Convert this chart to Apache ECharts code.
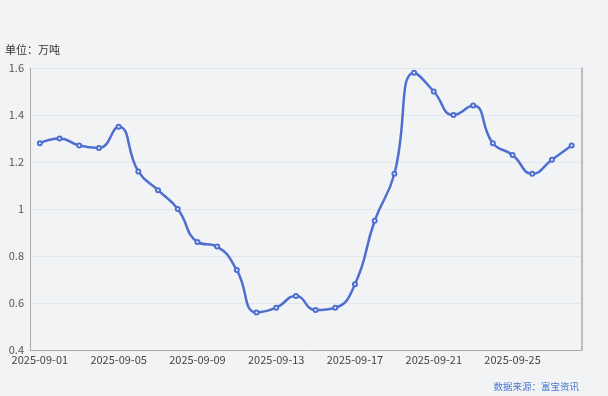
<!DOCTYPE html>
<html>
<head>
<meta charset="utf-8">
<script src="https://cdn.jsdelivr.net/npm/echarts@6/dist/echarts.min.js"></script>
<style>
html,body{margin:0;padding:0;background:#f2f3f5;}
#c{width:608px;height:396px;}
</style>
</head>
<body>
<div id="c"></div>
<script>
const categories = ['2025-09-01','2025-09-02','2025-09-03','2025-09-04','2025-09-05','2025-09-06','2025-09-07','2025-09-08','2025-09-09','2025-09-10','2025-09-11','2025-09-12','2025-09-13','2025-09-14','2025-09-15','2025-09-16','2025-09-17','2025-09-18','2025-09-19','2025-09-20','2025-09-21','2025-09-22','2025-09-23','2025-09-24','2025-09-25','2025-09-26','2025-09-27','2025-09-28'];
const values = [1.28,1.30,1.27,1.26,1.35,1.16,1.08,1.00,0.86,0.84,0.74,0.56,0.58,0.63,0.57,0.58,0.68,0.95,1.15,1.58,1.50,1.40,1.44,1.28,1.23,1.15,1.21,1.27];
const unitText = '单位：万吨';
const sourceText = '数据来源：富宝资讯';

const chart = echarts.init(document.getElementById('c'));
const font = '"Microsoft YaHei","Noto Sans CJK SC",sans-serif';
chart.setOption({
  backgroundColor: '#f2f3f5',
  animation: false,
  textStyle: {fontFamily: font},
  graphic: [
    {type:'text', left: 5, top: 44, style:{text: unitText, fill:'#333', font:'11px ' + font}},
    {type:'text', right: 29, top: 382, style:{text: sourceText, fill:'#4a78cf', font:'9.5px ' + font}}
  ],
  grid: {left: 30, right: 26.5, top: 68, bottom: 46},
  xAxis: {
    type: 'category',
    data: categories,
    boundaryGap: true,
    axisLine: {lineStyle: {color: '#aaa'}},
    axisTick: {lineStyle: {color: '#aaa'}, interval: 3},
    axisLabel: {color: '#444', fontSize: 11, interval: 3, margin: 4, fontFamily: font}
  },
  yAxis: [{
    type: 'value',
    min: 0.4, max: 1.6, interval: 0.2,
    axisLine: {show: true, lineStyle: {color: '#aaa'}},
    axisTick: {show: false},
    splitLine: {lineStyle: {color: '#e3e6ee'}},
    axisLabel: {color: '#555', fontSize: 11, margin: 6, fontFamily: font,
      formatter: v => String(Math.round(v*10)/10)}
  }, {
    type: 'value',
    min: 0.4, max: 1.6, interval: 0.2,
    position: 'right',
    axisLine: {show: true, lineStyle: {color: '#aaa', width: 1.5}},
    axisTick: {show: false},
    axisLabel: {show: false},
    splitLine: {show: false}
  }],
  series: [{
    type: 'line',
    data: values,
    smooth: true,
    symbol: 'emptyCircle',
    symbolSize: 4,
    lineStyle: {color: '#4f6fd0', width: 2.5},
    itemStyle: {color: '#4f6fd0', borderWidth: 1}
  }]
});
</script>
</body>
</html>
